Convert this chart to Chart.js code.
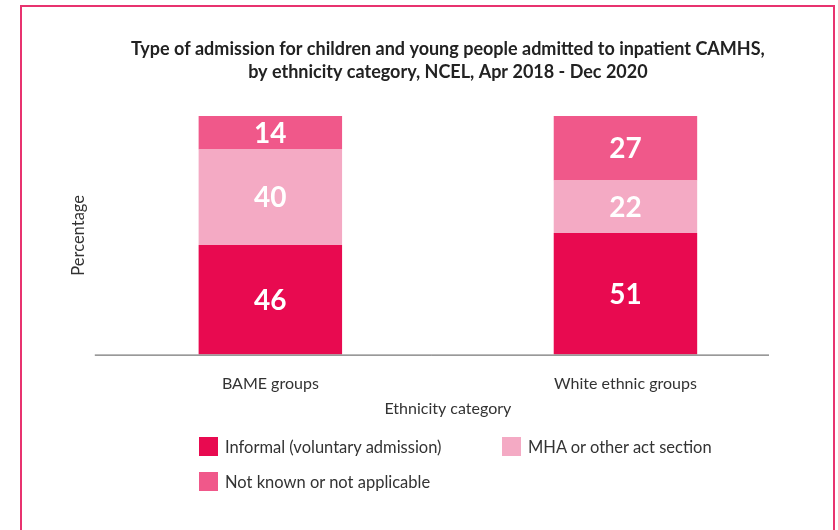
<!DOCTYPE html>
<html>
<head>
<meta charset="utf-8">
<script src="https://cdn.jsdelivr.net/npm/chart.js@4"></script>
<style>
  body { margin: 0; background: #fff; font-family: Lato, "Open Sans", sans-serif; }
  #wrap { position: relative; width: 838px; height: 530px; overflow: hidden; }
  #frame { position: absolute; left: 20px; top: 5px; width: 811px; height: 600px; border: 2px solid #e8336f; pointer-events: none; }
  #legend { position: absolute; left: 199px; top: 437px; display: grid; grid-template-columns: 303px auto; row-gap: 16px; }
  .item { display: flex; align-items: center; font-size: 16.5px; color: #333; height: 19px; }
  .box { width: 19px; height: 19px; margin-right: 7px; }
</style>
</head>
<body>
<div id="wrap">
  <canvas id="myChart" width="838" height="530"></canvas>
  <div id="frame"></div>
  <div id="legend"></div>
</div>
<script>
const categories = ["BAME groups", "White ethnic groups"];
const informal = [46, 51];
const mha = [40, 22];
const notKnown = [14, 27];

const seriesNames = ["Informal (voluntary admission)", "MHA or other act section", "Not known or not applicable"];
const seriesColors = ["#e80a50", "#f4aac4", "#f0588a"];

const titleLines = [
    "Type of admission for children and young people admitted to inpatient CAMHS,",
    "by ethnicity category, NCEL, Apr 2018 - Dec 2020"
];

// white numbers in the middle of each segment
const barLabels = {
    id: "barLabels",
    afterDatasetsDraw(chart) {
        const ctx = chart.ctx;
        ctx.save();
        ctx.fillStyle = "#ffffff";
        ctx.font = "bold 28px Lato";
        ctx.textAlign = "center";
        ctx.textBaseline = "middle";
        chart.data.datasets.forEach((ds, i) => {
            chart.getDatasetMeta(i).data.forEach((bar, j) => {
                const p = bar.getCenterPoint();
                ctx.fillText(ds.data[j], p.x, p.y + 1);
            });
        });
        ctx.restore();
    }
};

// baseline under the bars
const baseLine = {
    id: "baseLine",
    afterDraw(chart) {
        const ctx = chart.ctx;
        const y = chart.scales.y.getPixelForValue(0);
        ctx.save();
        ctx.strokeStyle = "#555";
        ctx.lineWidth = 1;
        ctx.beginPath();
        ctx.moveTo(chart.chartArea.left + 2, y + 0.5);
        ctx.lineTo(chart.chartArea.right - 34, y + 0.5);
        ctx.stroke();
        ctx.restore();
    }
};

const datasets = [informal, mha, notKnown].map((values, i) => ({
    label: seriesNames[i],
    data: values,
    backgroundColor: seriesColors[i],
    borderWidth: 0,
    barPercentage: 0.404,
    categoryPercentage: 1
}));

const ctx = document.getElementById("myChart").getContext("2d");

const myChart = new Chart(ctx, {
    type: "bar",
    data: { labels: categories, datasets: datasets },
    options: {
        responsive: false,
        animation: false,
        layout: { padding: { top: 30, left: 65, right: 35, bottom: 108 } },
        plugins: {
            legend: { display: false },
            tooltip: { enabled: false },
            title: {
                display: true,
                fullSize: false,
                text: titleLines,
                color: "#222",
                font: { family: "Lato", size: 18, weight: "bold", lineHeight: 1.28 },
                padding: { top: 8, bottom: 32 }
            }
        },
        scales: {
            x: {
                stacked: true,
                grid: { display: false, drawTicks: false },
                border: { display: false },
                ticks: { color: "#333", font: { family: "Lato", size: 16 }, padding: 20 },
                title: { display: true, text: "Ethnicity category", color: "#333", font: { family: "Lato", size: 16 }, padding: { top: -15 } }
            },
            y: {
                stacked: true,
                min: 0,
                max: 100,
                grid: { display: false, drawTicks: false },
                border: { display: false },
                ticks: { display: false },
                title: { display: true, text: "Percentage", color: "#333", font: { family: "Lato", size: 16.5 }, padding: { top: 4, bottom: 4 } }
            }
        }
    },
    plugins: [barLabels, baseLine]
});

const legend = document.getElementById("legend");
[0, 1, 2].forEach(i => {
    const item = document.createElement("div");
    item.className = "item";
    item.innerHTML = '<span class="box" style="background:' + seriesColors[i] + '"></span>' + seriesNames[i];
    legend.appendChild(item);
});
</script>
</body>
</html>
